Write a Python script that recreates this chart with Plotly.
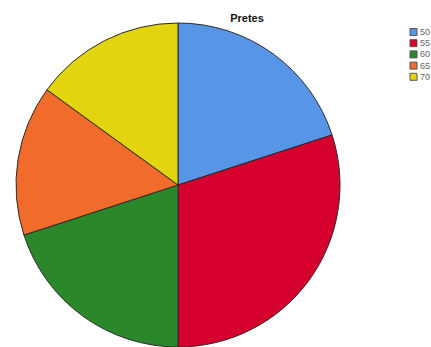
import plotly.graph_objects as go

labels = ["50", "55", "60", "65", "70"]
values = [4, 6, 4, 3, 3]
colors = ["#5795E6", "#D6002F", "#2A872A", "#F16B2B", "#E2D40F"]

W, H = 431, 347

fig = go.Figure(go.Pie(
    labels=labels, values=values, sort=False, direction="clockwise", rotation=0,
    marker=dict(colors=colors, line=dict(color="#2b2b2b", width=1)),
    textinfo="none", hoverinfo="label+percent", showlegend=False,
    domain=dict(x=[16 / W, 340 / W], y=[0.0, 324 / H]),
))

# compact legend built from the same labels / colours
shapes, annotations = [], []
for i, (lab, col) in enumerate(zip(labels, colors)):
    cy = 32 + i * 11.2
    shapes.append(dict(type="rect", xref="paper", yref="paper",
                       x0=410 / W, x1=417 / W, y0=1 - (cy + 3.5) / H, y1=1 - (cy - 3.5) / H,
                       fillcolor=col, line=dict(color="#555", width=1)))
    annotations.append(dict(text=lab, xref="paper", yref="paper", x=418 / W, y=1 - cy / H,
                            xanchor="left", yanchor="middle", showarrow=False,
                            font=dict(family="Liberation Sans, Arial", size=9, color="#666")))

fig.update_layout(
    width=W, height=H,
    margin=dict(l=0, r=0, t=0, b=0, autoexpand=False),
    paper_bgcolor="white", plot_bgcolor="white",
    title=dict(text="<b>Pretes</b>", x=247 / W, xanchor="center", y=1 - 18.5 / H, yanchor="middle",
               font=dict(family="Liberation Sans, Arial", size=11, color="#111")),
    shapes=shapes, annotations=annotations,
)
fig.write_html("out.html")
